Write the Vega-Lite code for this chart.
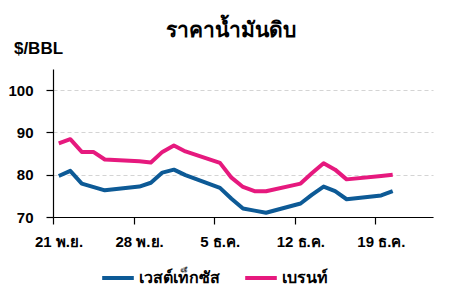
{
  "$schema": "https://vega.github.io/schema/vega-lite/v6.json",
  "width": 380,
  "height": 148,
  "autosize": {"type": "none"},
  "padding": {"left": 53, "top": 69, "right": 20, "bottom": 79},
  "background": "white",
  "title": {
    "text": "ราคาน้ำมันดิบ",
    "font": "Liberation Sans",
    "fontSize": 21,
    "fontWeight": "bold",
    "color": "black",
    "anchor": "middle",
    "frame": "group",
    "baseline": "alphabetic",
    "dx": -12,
    "offset": -19
  },
  "data": {
    "values": [
      {"date": "2022-11-21T12:00:00", "series": "เวสต์เท็กซัส", "price": 79.7},
      {"date": "2022-11-22T12:00:00", "series": "เวสต์เท็กซัส", "price": 80.9},
      {"date": "2022-11-23T12:00:00", "series": "เวสต์เท็กซัส", "price": 77.9},
      {"date": "2022-11-25T12:00:00", "series": "เวสต์เท็กซัส", "price": 76.3},
      {"date": "2022-11-28T12:00:00", "series": "เวสต์เท็กซัส", "price": 77.2},
      {"date": "2022-11-29T12:00:00", "series": "เวสต์เท็กซัส", "price": 78.1},
      {"date": "2022-11-30T12:00:00", "series": "เวสต์เท็กซัส", "price": 80.5},
      {"date": "2022-12-01T12:00:00", "series": "เวสต์เท็กซัส", "price": 81.2},
      {"date": "2022-12-02T12:00:00", "series": "เวสต์เท็กซัส", "price": 79.9},
      {"date": "2022-12-05T12:00:00", "series": "เวสต์เท็กซัส", "price": 76.9},
      {"date": "2022-12-06T12:00:00", "series": "เวสต์เท็กซัส", "price": 74.3},
      {"date": "2022-12-07T12:00:00", "series": "เวสต์เท็กซัส", "price": 72.0},
      {"date": "2022-12-08T12:00:00", "series": "เวสต์เท็กซัส", "price": 71.5},
      {"date": "2022-12-09T12:00:00", "series": "เวสต์เท็กซัส", "price": 71.0},
      {"date": "2022-12-12T12:00:00", "series": "เวสต์เท็กซัส", "price": 73.2},
      {"date": "2022-12-13T12:00:00", "series": "เวสต์เท็กซัส", "price": 75.3},
      {"date": "2022-12-14T12:00:00", "series": "เวสต์เท็กซัส", "price": 77.2},
      {"date": "2022-12-15T12:00:00", "series": "เวสต์เท็กซัส", "price": 76.1},
      {"date": "2022-12-16T12:00:00", "series": "เวสต์เท็กซัส", "price": 74.2},
      {"date": "2022-12-19T12:00:00", "series": "เวสต์เท็กซัส", "price": 75.1},
      {"date": "2022-12-20T12:00:00", "series": "เวสต์เท็กซัส", "price": 76.1},
      {"date": "2022-11-21T12:00:00", "series": "เบรนท์", "price": 87.4},
      {"date": "2022-11-22T12:00:00", "series": "เบรนท์", "price": 88.4},
      {"date": "2022-11-23T12:00:00", "series": "เบรนท์", "price": 85.4},
      {"date": "2022-11-24T12:00:00", "series": "เบรนท์", "price": 85.4},
      {"date": "2022-11-25T12:00:00", "series": "เบรนท์", "price": 83.6},
      {"date": "2022-11-28T12:00:00", "series": "เบรนท์", "price": 83.2},
      {"date": "2022-11-29T12:00:00", "series": "เบรนท์", "price": 82.9},
      {"date": "2022-11-30T12:00:00", "series": "เบรนท์", "price": 85.4},
      {"date": "2022-12-01T12:00:00", "series": "เบรนท์", "price": 86.9},
      {"date": "2022-12-02T12:00:00", "series": "เบรนท์", "price": 85.5},
      {"date": "2022-12-05T12:00:00", "series": "เบรนท์", "price": 82.8},
      {"date": "2022-12-06T12:00:00", "series": "เบรนท์", "price": 79.3},
      {"date": "2022-12-07T12:00:00", "series": "เบรนท์", "price": 77.1},
      {"date": "2022-12-08T12:00:00", "series": "เบรนท์", "price": 76.1},
      {"date": "2022-12-09T12:00:00", "series": "เบรนท์", "price": 76.1},
      {"date": "2022-12-12T12:00:00", "series": "เบรนท์", "price": 77.9},
      {"date": "2022-12-13T12:00:00", "series": "เบรนท์", "price": 80.4},
      {"date": "2022-12-14T12:00:00", "series": "เบรนท์", "price": 82.7},
      {"date": "2022-12-15T12:00:00", "series": "เบรนท์", "price": 81.2},
      {"date": "2022-12-16T12:00:00", "series": "เบรนท์", "price": 78.9},
      {"date": "2022-12-19T12:00:00", "series": "เบรนท์", "price": 79.7},
      {"date": "2022-12-20T12:00:00", "series": "เบรนท์", "price": 80.0}
    ]
  },
  "mark": {"type": "line", "strokeWidth": 4, "strokeJoin": "round", "strokeCap": "butt"},
  "encoding": {
    "x": {
      "field": "date",
      "type": "temporal",
      "scale": {
        "domain": [
          {"year": 2022, "month": 11, "date": 21},
          {"year": 2022, "month": 12, "date": 24}
        ]
      },
      "axis": {
        "title": null,
        "values": [
          {"year": 2022, "month": 11, "date": 21},
          {"year": 2022, "month": 11, "date": 28},
          {"year": 2022, "month": 12, "date": 5},
          {"year": 2022, "month": 12, "date": 12},
          {"year": 2022, "month": 12, "date": 19}
        ],
        "labelExpr": "date(datum.value) + ' ' + (month(datum.value) == 10 ? 'พ.ย.' : 'ธ.ค.')",
        "labelOffset": 5.5,
        "labelPadding": 10,
        "labelFont": "Liberation Sans",
        "labelFontSize": 15,
        "labelFontWeight": "bold",
        "labelColor": "black",
        "labelAngle": 0,
        "labelAlign": "center",
        "tickColor": "black",
        "tickSize": 7,
        "domainColor": "black",
        "grid": false
      }
    },
    "y": {
      "field": "price",
      "type": "quantitative",
      "scale": {"domain": [70, 105], "nice": false, "zero": false},
      "axis": {
        "title": "$/BBL",
        "titleAngle": 0,
        "titleAlign": "center",
        "titleBaseline": "alphabetic",
        "titleX": -15,
        "titleY": -16,
        "titleFont": "Liberation Sans",
        "titleFontSize": 17,
        "titleFontWeight": "bold",
        "titleColor": "black",
        "values": [70, 80, 90, 100],
        "labelFont": "Liberation Sans",
        "labelFontSize": 15,
        "labelFontWeight": "bold",
        "labelColor": "black",
        "labelPadding": 13,
        "tickColor": "black",
        "tickSize": 7,
        "domainColor": "black",
        "grid": true,
        "gridColor": "#d4d4d4",
        "gridDash": [4, 3],
        "gridWidth": 1.2
      }
    },
    "color": {
      "field": "series",
      "type": "nominal",
      "scale": {
        "domain": ["เวสต์เท็กซัส", "เบรนท์"],
        "range": ["#0d5a96", "#e6197e"]
      },
      "legend": {
        "title": null,
        "orient": "none",
        "direction": "horizontal",
        "legendX": 47,
        "legendY": 191,
        "symbolType": "stroke",
        "symbolSize": 1000,
        "symbolStrokeWidth": 4,
        "labelFont": "Liberation Sans",
        "labelFontSize": 16,
        "labelFontWeight": "bold",
        "labelColor": "black",
        "labelOffset": 3,
        "columnPadding": 17
      }
    }
  },
  "config": {
    "view": {"stroke": null},
    "axis": {"domainWidth": 1.2, "tickWidth": 1.2}
  }
}
